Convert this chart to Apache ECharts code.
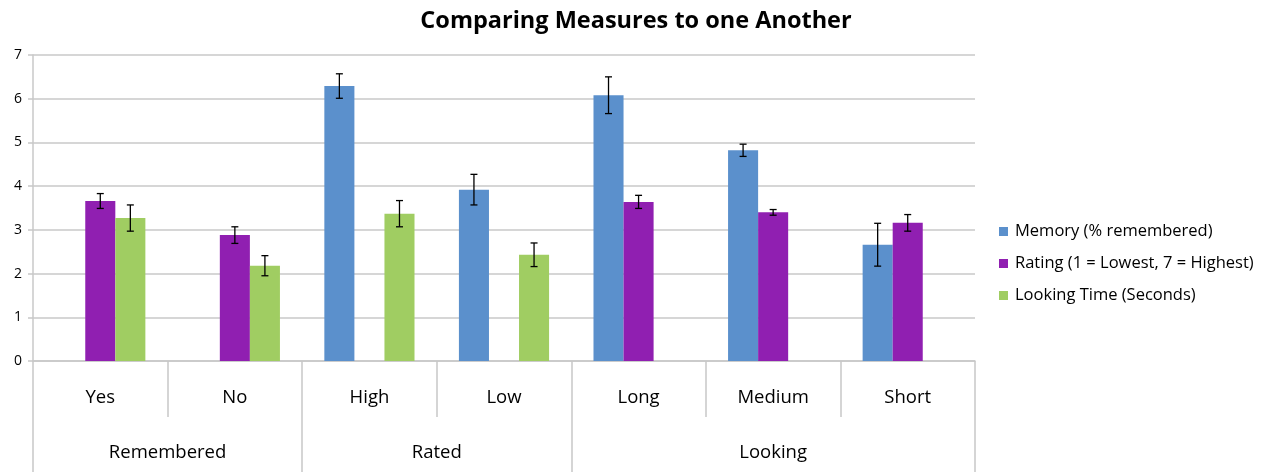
<!DOCTYPE html>
<html>
<head>
<meta charset="utf-8">
<script src="https://cdn.jsdelivr.net/npm/echarts@6/dist/echarts.min.js"></script>
<style>html,body{margin:0;padding:0;background:#fff;}#c{width:1266px;height:472px;}</style>
</head>
<body>
<div id="c"></div>
<script>
var categories = ['Yes', 'No', 'High', 'Low', 'Long', 'Medium', 'Short'];
var groups = ['Remembered', 'Rated', 'Looking'];
var groupBounds = [0, 2, 4, 7];
var groupCenters = [1, 3, 5.5];
var seriesNames = ['Memory (% remembered)', 'Rating (1 = Lowest, 7 = Highest)', 'Looking Time (Seconds)'];
var memory = [null, null, 6.29, 3.92, 6.08, 4.82, 2.66];
var memoryErr = [null, null, 0.28, 0.35, 0.42, 0.14, 0.49];
var rating = [3.66, 2.88, null, null, 3.64, 3.40, 3.16];
var ratingErr = [0.17, 0.19, null, null, 0.15, 0.065, 0.19];
var looking = [3.27, 2.18, 3.37, 2.43, null, null, null];
var lookingErr = [0.30, 0.23, 0.30, 0.27, null, null, null];
var yTicks = [0, 1, 2, 3, 4, 5, 6, 7];

var colors = ['#5b90cc', '#901fb1', '#a0cd62'];
var FONT = 'Open Sans';
var CAT_GAP = 0.33;

function errData(vals, errs) {
  var out = [];
  for (var i = 0; i < vals.length; i++) {
    if (vals[i] != null && errs[i] != null) out.push([i, vals[i] - errs[i], vals[i] + errs[i]]);
  }
  return out;
}

function makeErr(slot) {
  return function (params, api) {
    var catW = api.size([1, 0])[0];
    var bw = catW * (1 - CAT_GAP) / 3;
    var off = (slot - 1) * bw;
    var lo = api.coord([api.value(0), api.value(1)]);
    var hi = api.coord([api.value(0), api.value(2)]);
    var x = lo[0] + off;
    var cap = 3.5;
    var st = { stroke: '#000', lineWidth: 1.3 };
    return {
      type: 'group',
      children: [
        { type: 'line', shape: { x1: x, y1: lo[1], x2: x, y2: hi[1] }, style: st },
        { type: 'line', shape: { x1: x - cap, y1: lo[1], x2: x + cap, y2: lo[1] }, style: st },
        { type: 'line', shape: { x1: x - cap, y1: hi[1], x2: x + cap, y2: hi[1] }, style: st }
      ]
    };
  };
}

var chart = echarts.init(document.getElementById('c'), null, { renderer: 'canvas' });
var gridColor = '#c8c8c8';
chart.setOption({
  animation: false,
  backgroundColor: '#fff',
  title: {
    text: 'Comparing Measures to one Another',
    left: 631, top: 4, textAlign: 'center',
    textStyle: { fontFamily: FONT, fontWeight: 'bold', fontSize: 23.5, color: '#000' }
  },
  legend: {
    orient: 'vertical', left: 994, top: 218,
    itemWidth: 9, itemHeight: 9, itemGap: 15,
    icon: 'rect',
    data: seriesNames,
    textStyle: { fontFamily: FONT, fontSize: 16.5, color: '#000', padding: [0, 0, 0, 2] }
  },
  grid: { left: 33, right: 291, top: 55, bottom: 111, containLabel: false },
  xAxis: [
    {
      type: 'category', data: categories, position: 'bottom',
      axisLine: { show: true, lineStyle: { color: gridColor, width: 1.5 } },
      axisTick: { show: true, interval: 0, length: 56, lineStyle: { color: gridColor, width: 1.5 } },
      axisLabel: { interval: 0, margin: 27, fontFamily: FONT, fontSize: 18.5, color: '#000' },
      splitLine: { show: false }
    },
    {
      type: 'value', min: 0, max: 7, position: 'bottom',
      axisLine: { show: false },
      axisTick: { show: true, customValues: groupBounds, length: 111, lineStyle: { color: gridColor, width: 1.5 } },
      axisLabel: {
        customValues: groupCenters, margin: 82, fontFamily: FONT, fontSize: 18.5, color: '#000',
        formatter: function (v) { var i = groupCenters.indexOf(v); return i >= 0 ? groups[i] : ''; }
      },
      splitLine: { show: false }
    }
  ],
  yAxis: {
    type: 'value', min: 0, max: 7, interval: 1,
    axisLine: { show: true, lineStyle: { color: gridColor, width: 1.5 } },
    axisTick: { show: true, length: 5, lineStyle: { color: gridColor, width: 1.5 } },
    axisLabel: { margin: 11, fontFamily: FONT, fontSize: 14, color: '#000',
      formatter: function (v) { return yTicks.indexOf(v) >= 0 ? String(v) : ''; } },
    splitLine: { show: true, lineStyle: { color: gridColor, width: 1.5 } }
  },
  series: [
    { name: seriesNames[0], type: 'bar', data: memory, barGap: '0%', barCategoryGap: '33%', itemStyle: { color: colors[0] } },
    { name: seriesNames[1], type: 'bar', data: rating, barGap: '0%', barCategoryGap: '33%', itemStyle: { color: colors[1] } },
    { name: seriesNames[2], type: 'bar', data: looking, barGap: '0%', barCategoryGap: '33%', itemStyle: { color: colors[2] } },
    { type: 'custom', renderItem: makeErr(0), data: errData(memory, memoryErr), encode: { x: 0, y: [1, 2] }, z: 10, silent: true },
    { type: 'custom', renderItem: makeErr(1), data: errData(rating, ratingErr), encode: { x: 0, y: [1, 2] }, z: 10, silent: true },
    { type: 'custom', renderItem: makeErr(2), data: errData(looking, lookingErr), encode: { x: 0, y: [1, 2] }, z: 10, silent: true }
  ]
});
</script>
</body>
</html>
